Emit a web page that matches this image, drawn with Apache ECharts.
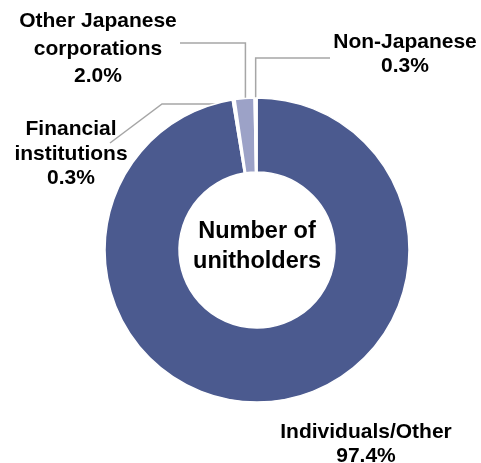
<!DOCTYPE html>
<html>
<head>
<meta charset="utf-8">
<script src="https://cdn.jsdelivr.net/npm/echarts@6/dist/echarts.min.js"></script>
<style>
html,body{margin:0;padding:0;background:#fff;}
#chart{width:481px;height:463px;}
</style>
</head>
<body>
<div id="chart"></div>
<script>
// ---- data ----
var categories = ['Individuals/Other', 'Financial institutions', 'Other Japanese corporations', 'Non-Japanese'];
var labelTexts = ['Individuals/Other', 'Financial\ninstitutions', 'Other Japanese\ncorporations', 'Non-Japanese'];
var shares = [97.4, 0.3, 2.0, 0.3];
var centerTitle = 'Number of\nunitholders';

// ---- style / layout ----
var colors = ['#4b5a8f', '#ffffff', '#9ca2c7', '#ffffff'];
var CX = 257, CY = 250, R_OUT = 152, R_IN = 78;
var FONT = '"Liberation Sans", Arial, Helvetica, sans-serif';
// label block centres and leader-line settings
var labelPos = [
  {x: 366, y: 444, lh: 24.5, fs: 21, line: false},
  {x: 71, y: 154, lh: 24.5, fs: 21, line: true},
  {x: 98, y: 49, lh: 27.5, fs: 21, line: true},
  {x: 405, y: 54, lh: 24, fs: 21, line: true}
];

var chart = echarts.init(document.getElementById('chart'), null, {renderer: 'canvas'});

var data = categories.map(function (c, i) {
  return {
    name: c,
    value: shares[i],
    itemStyle: {color: colors[i]},
    label: {fontSize: labelPos[i].fs, lineHeight: labelPos[i].lh},
    labelLine: {show: labelPos[i].line}
  };
});

function inward(p, d) {
  var dx = p[0] - CX, dy = p[1] - CY;
  var len = Math.sqrt(dx * dx + dy * dy);
  return [p[0] - dx / len * d, p[1] - dy / len * d];
}

chart.setOption({
  backgroundColor: '#ffffff',
  animation: false,
  graphic: [{
    type: 'text',
    x: CX, y: 247,
    style: {
      text: centerTitle,
      font: 'bold 23.5px ' + FONT,
      fill: '#000000',
      align: 'center',
      verticalAlign: 'middle',
      lineHeight: 30
    },
    z: 10
  }],
  series: [{
    type: 'pie',
    center: [CX, CY],
    radius: [R_IN, R_OUT],
    startAngle: 90,
    clockwise: true,
    avoidLabelOverlap: false,
    itemStyle: {borderColor: '#ffffff', borderWidth: 1.5},
    label: {
      show: true,
      position: 'outside',
      color: '#000000',
      fontWeight: 'bold',
      fontFamily: FONT,
      align: 'center',
      formatter: function (p) {
        return labelTexts[p.dataIndex] + '\n' + p.value.toFixed(1) + '%';
      }
    },
    labelLine: {show: true, lineStyle: {color: '#a6a6a6', width: 1.5}},
    labelLayout: function (params) {
      var i = params.dataIndex;
      var lp = labelPos[i];
      var out = {x: lp.x, y: lp.y, align: 'center', verticalAlign: 'middle'};
      var pts = params.labelLinePoints;
      if (lp.line && pts) {
        var a = inward(pts[0], 10);
        if (i === 2) {
          out.labelLinePoints = [a, [a[0], 43], [180, 43]];
        } else if (i === 3) {
          out.labelLinePoints = [a, [a[0], 58], [330, 58]];
        } else if (i === 1) {
          out.labelLinePoints = [a, [a[0] - 12, 104], [162, 104], [110, 143]];
        }
      }
      return out;
    },
    data: data
  }]
});
</script>
</body>
</html>
